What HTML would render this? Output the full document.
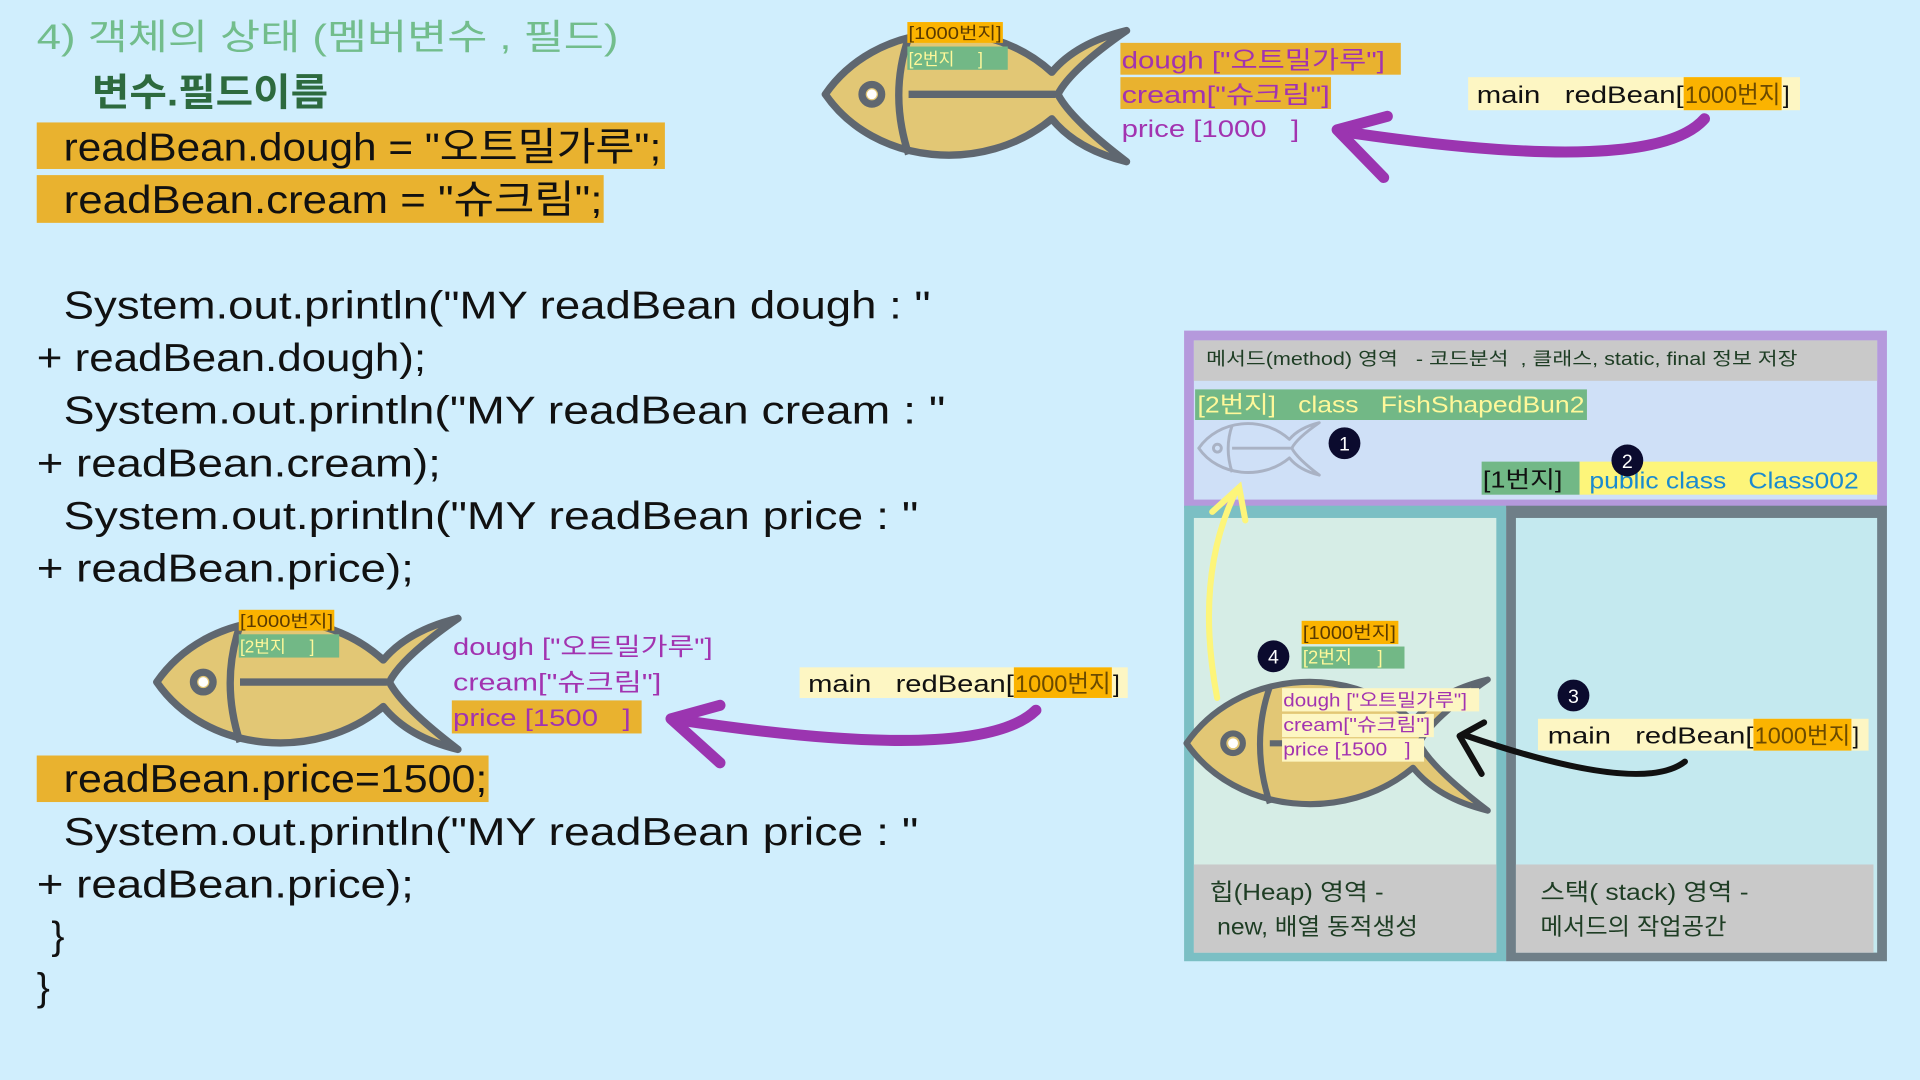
<!DOCTYPE html>
<html><head><meta charset="utf-8"><style>
html,body{margin:0;padding:0;background:#d0eefd;}
svg{display:block}
text{font-family:"Liberation Sans","Noto Sans CJK KR",sans-serif;}
</style></head><body>
<svg width="1920" height="1080" viewBox="0 0 1568 882" xmlns="http://www.w3.org/2000/svg">
<defs>
<g id="fish">
<path d="M0,0 C40,-58 130,-68 185,-18 Q205,-42 246,-52 Q200,-20 190,0 Q200,20 246,55 Q205,45 185,20 C130,66 40,58 0,0 Z" stroke-linejoin="round"/>
<path d="M68,-46 Q52,0 68,49" fill="none"/>
<path d="M68,0 L188,0" fill="none"/>
<circle cx="38" cy="0" r="8"/>
</g>
</defs>
<rect width="1568" height="882" fill="#d0eefd"/>

<text x="30" y="40" font-size="29" fill="#72bd8c" textLength="475" lengthAdjust="spacingAndGlyphs">4) 객체의 상태 (멤버변수 , 필드)</text>
<text x="75" y="86" font-size="31" font-weight="bold" fill="#2d6a3e" textLength="193" lengthAdjust="spacingAndGlyphs">변수.필드이름</text>
<rect x="30" y="100" width="513" height="38" fill="#e9b22f"/>
<text x="52" y="131" font-size="32" fill="#111" textLength="488" lengthAdjust="spacingAndGlyphs">readBean.dough = "오트밀가루";</text>
<rect x="30" y="143" width="463" height="39" fill="#e9b22f"/>
<text x="52" y="174" font-size="32" fill="#111" textLength="440" lengthAdjust="spacingAndGlyphs">readBean.cream = "슈크림";</text>

<g font-size="32" fill="#111">
<text x="52" y="260" textLength="708" lengthAdjust="spacingAndGlyphs">System.out.println("MY readBean dough : "</text>
<text x="30" y="303" textLength="318" lengthAdjust="spacingAndGlyphs">+ readBean.dough);</text>
<text x="52" y="346" textLength="720" lengthAdjust="spacingAndGlyphs">System.out.println("MY readBean cream : "</text>
<text x="30" y="389" textLength="330" lengthAdjust="spacingAndGlyphs">+ readBean.cream);</text>
<text x="52" y="432" textLength="698" lengthAdjust="spacingAndGlyphs">System.out.println("MY readBean price : "</text>
<text x="30" y="475" textLength="308" lengthAdjust="spacingAndGlyphs">+ readBean.price);</text>
</g>
<rect x="30" y="617" width="369" height="38" fill="#e9b22f"/>
<g font-size="32" fill="#111">
<text x="52" y="647" textLength="346" lengthAdjust="spacingAndGlyphs">readBean.price=1500;</text>
<text x="52" y="690" textLength="698" lengthAdjust="spacingAndGlyphs">System.out.println("MY readBean price : "</text>
<text x="30" y="733" textLength="308" lengthAdjust="spacingAndGlyphs">+ readBean.price);</text>
<text x="42" y="775">}</text>
<text x="30" y="817">}</text>
</g>

<!-- top fish -->
<use href="#fish" transform="translate(674,77)" fill="#e2c775" stroke="#5f6770" stroke-width="6"/>
<circle cx="712" cy="77" r="4" fill="#fff"/>
<rect x="741" y="18" width="78" height="17" fill="#fbb300"/>
<text x="742" y="32" font-size="14" fill="#5a3a00" textLength="76" lengthAdjust="spacingAndGlyphs">[1000번지]</text>
<rect x="741" y="38" width="82" height="19" fill="#72b886"/>
<text x="742" y="53" font-size="14" fill="#fff89a">[2번지&#160;&#160;&#160;&#160;&#160;]</text>
<rect x="915" y="35" width="229" height="26" fill="#e9b22f"/>
<text x="916" y="56" font-size="20" fill="#a233b0" textLength="215" lengthAdjust="spacingAndGlyphs">dough ["오트밀가루"]</text>
<rect x="915" y="63" width="172" height="26" fill="#e9b22f"/>
<text x="916" y="84" font-size="20" fill="#a233b0" textLength="170" lengthAdjust="spacingAndGlyphs">cream["슈크림"]</text>
<text x="916" y="112" font-size="20" fill="#a233b0" textLength="145" lengthAdjust="spacingAndGlyphs">price [1000&#160;&#160;&#160;]</text>
<rect x="1199" y="63" width="271" height="27" fill="#fdf6c3"/>
<text x="1206" y="84" font-size="20" fill="#111" textLength="169" lengthAdjust="spacingAndGlyphs">main&#160;&#160;&#160;redBean[</text>
<rect x="1375" y="63" width="80" height="27" fill="#fbb300"/>
<text x="1376" y="84" font-size="20" fill="#6b4a00" textLength="78" lengthAdjust="spacingAndGlyphs">1000번지</text>
<text x="1456" y="84" font-size="20" fill="#111">]</text>
<path d="M1392,97 Q1350,145 1100,108" fill="none" stroke="#9b35b0" stroke-width="9" stroke-linecap="round"/>
<path d="M1133,95 L1092,106 L1130,145" fill="none" stroke="#9b35b0" stroke-width="9" stroke-linecap="round" stroke-linejoin="round"/>

<!-- bottom fish -->
<use href="#fish" transform="translate(128,557)" fill="#e2c775" stroke="#5f6770" stroke-width="6"/>
<circle cx="166" cy="557" r="4" fill="#fff"/>
<rect x="195" y="498" width="78" height="17" fill="#fbb300"/>
<text x="196" y="512" font-size="14" fill="#5a3a00" textLength="76" lengthAdjust="spacingAndGlyphs">[1000번지]</text>
<rect x="195" y="518" width="82" height="19" fill="#72b886"/>
<text x="196" y="533" font-size="14" fill="#fff89a">[2번지&#160;&#160;&#160;&#160;&#160;]</text>
<text x="370" y="535" font-size="20" fill="#a233b0" textLength="212" lengthAdjust="spacingAndGlyphs">dough ["오트밀가루"]</text>
<text x="370" y="564" font-size="20" fill="#a233b0" textLength="170" lengthAdjust="spacingAndGlyphs">cream["슈크림"]</text>
<rect x="369" y="572" width="155" height="27" fill="#e9b22f"/>
<text x="370" y="593" font-size="20" fill="#a233b0" textLength="145" lengthAdjust="spacingAndGlyphs">price [1500&#160;&#160;&#160;]</text>
<rect x="653" y="545" width="268" height="25" fill="#fdf6c3"/>
<text x="660" y="565" font-size="20" fill="#111" textLength="168" lengthAdjust="spacingAndGlyphs">main&#160;&#160;&#160;redBean[</text>
<rect x="828" y="545" width="80" height="25" fill="#fbb300"/>
<text x="829" y="565" font-size="20" fill="#6b4a00" textLength="78" lengthAdjust="spacingAndGlyphs">1000번지</text>
<text x="909" y="565" font-size="20" fill="#111">]</text>
<path d="M846,580 Q800,625 555,588" fill="none" stroke="#9b35b0" stroke-width="9" stroke-linecap="round"/>
<path d="M588,576 L548,587 L588,623" fill="none" stroke="#9b35b0" stroke-width="9" stroke-linecap="round" stroke-linejoin="round"/>

<!-- memory panel -->
<rect x="967" y="270" width="574" height="145" fill="#b599dc"/>
<rect x="975" y="278" width="558" height="130" fill="#cfe0f7"/>
<rect x="975" y="278" width="558" height="33" fill="#c9c9c9"/>
<text x="985" y="298" font-size="15" fill="#1e3d24" textLength="483" lengthAdjust="spacingAndGlyphs">메서드(method) 영역&#160;&#160;&#160;- 코드분석&#160;&#160;, 클래스, static, final 정보 저장</text>
<rect x="976" y="318" width="320" height="25" fill="#72b886"/>
<text x="978" y="337" font-size="19" fill="#fff89a" textLength="316" lengthAdjust="spacingAndGlyphs">[2번지]&#160;&#160;&#160;class&#160;&#160;&#160;FishShapedBun2</text>
<use href="#fish" transform="translate(979,366) scale(0.4)" fill="none" stroke="#a9b2c4" stroke-width="6"/>
<circle cx="1098" cy="362" r="13" fill="#0b0b2e"/>
<text x="1098" y="368" font-size="16" fill="#fff" text-anchor="middle">1</text>
<rect x="1210" y="377" width="80" height="27" fill="#72b886"/>
<rect x="1290" y="377" width="243" height="27" fill="#fdf57a"/>
<text x="1211" y="398" font-size="19" fill="#111" textLength="65" lengthAdjust="spacingAndGlyphs">[1번지]</text>
<text x="1298" y="399" font-size="19" fill="#1a8ad0" textLength="220" lengthAdjust="spacingAndGlyphs">public class&#160;&#160;&#160;Class002</text>
<circle cx="1329" cy="376" r="13" fill="#0b0b2e"/>
<text x="1329" y="382" font-size="16" fill="#fff" text-anchor="middle">2</text>

<rect x="967" y="413" width="263" height="372" fill="#7bbfc4"/>
<rect x="975" y="423" width="247" height="355" fill="#d6ede6"/>
<rect x="975" y="706" width="247" height="72" fill="#c9c9c9"/>
<text x="988" y="735" font-size="19" fill="#1e3d24" textLength="142" lengthAdjust="spacingAndGlyphs">힙(Heap) 영역 -</text>
<text x="994" y="763" font-size="19" fill="#1e3d24" textLength="164" lengthAdjust="spacingAndGlyphs">new, 배열 동적생성</text>

<rect x="1230" y="413" width="311" height="372" fill="#6f7f88"/>
<rect x="1238" y="423" width="295" height="355" fill="#c4e9ef"/>
<rect x="1238" y="706" width="292" height="72" fill="#c9c9c9"/>
<text x="1258" y="735" font-size="19" fill="#1e3d24" textLength="170" lengthAdjust="spacingAndGlyphs">스택( stack) 영역 -</text>
<text x="1258" y="763" font-size="19" fill="#1e3d24" textLength="152" lengthAdjust="spacingAndGlyphs">메서드의 작업공간</text>

<!-- heap fish -->
<use href="#fish" transform="translate(969,607)" fill="#e2c775" stroke="#5f6770" stroke-width="5"/>
<circle cx="1007" cy="607" r="4" fill="#fff"/>
<path d="M994,570 Q975,470 1010,400" fill="none" stroke="#fdf57a" stroke-width="5" stroke-linecap="round"/>
<path d="M990,418 L1012,398 L1017,425" fill="none" stroke="#fdf57a" stroke-width="5" stroke-linecap="round"/>
<rect x="1063" y="507" width="79" height="19" fill="#fbb300"/>
<text x="1064" y="522" font-size="15" fill="#5a3a00" textLength="76" lengthAdjust="spacingAndGlyphs">[1000번지]</text>
<rect x="1063" y="528" width="84" height="18" fill="#72b886"/>
<text x="1064" y="542" font-size="15" fill="#fff89a">[2번지&#160;&#160;&#160;&#160;&#160;]</text>
<circle cx="1040" cy="536" r="13" fill="#0b0b2e"/>
<text x="1040" y="542" font-size="16" fill="#fff" text-anchor="middle">4</text>
<rect x="1047" y="562" width="161" height="19" fill="#fdf6c3"/>
<rect x="1047" y="583" width="124" height="19" fill="#fdf6c3"/>
<rect x="1047" y="603" width="116" height="19" fill="#fdf6c3"/>
<text x="1048" y="577" font-size="15" fill="#a233b0" textLength="150" lengthAdjust="spacingAndGlyphs">dough ["오트밀가루"]</text>
<text x="1048" y="597" font-size="15" fill="#a233b0" textLength="120" lengthAdjust="spacingAndGlyphs">cream["슈크림"]</text>
<text x="1048" y="617" font-size="15" fill="#a233b0" textLength="104" lengthAdjust="spacingAndGlyphs">price [1500&#160;&#160;&#160;]</text>

<circle cx="1285" cy="568" r="13" fill="#0b0b2e"/>
<text x="1285" y="574" font-size="16" fill="#fff" text-anchor="middle">3</text>
<rect x="1256" y="587" width="270" height="26" fill="#fdf6c3"/>
<text x="1264" y="607" font-size="19" fill="#111" textLength="168" lengthAdjust="spacingAndGlyphs">main&#160;&#160;&#160;redBean[</text>
<rect x="1432" y="587" width="80" height="26" fill="#fbb300"/>
<text x="1433" y="607" font-size="19" fill="#6b4a00" textLength="78" lengthAdjust="spacingAndGlyphs">1000번지</text>
<text x="1513" y="607" font-size="19" fill="#111">]</text>
<path d="M1376,622 Q1340,650 1195,600" fill="none" stroke="#111" stroke-width="5" stroke-linecap="round"/>
<path d="M1212,590 L1192,601 L1210,632" fill="none" stroke="#111" stroke-width="5" stroke-linecap="round" stroke-linejoin="round"/>
</svg>
</body></html>
